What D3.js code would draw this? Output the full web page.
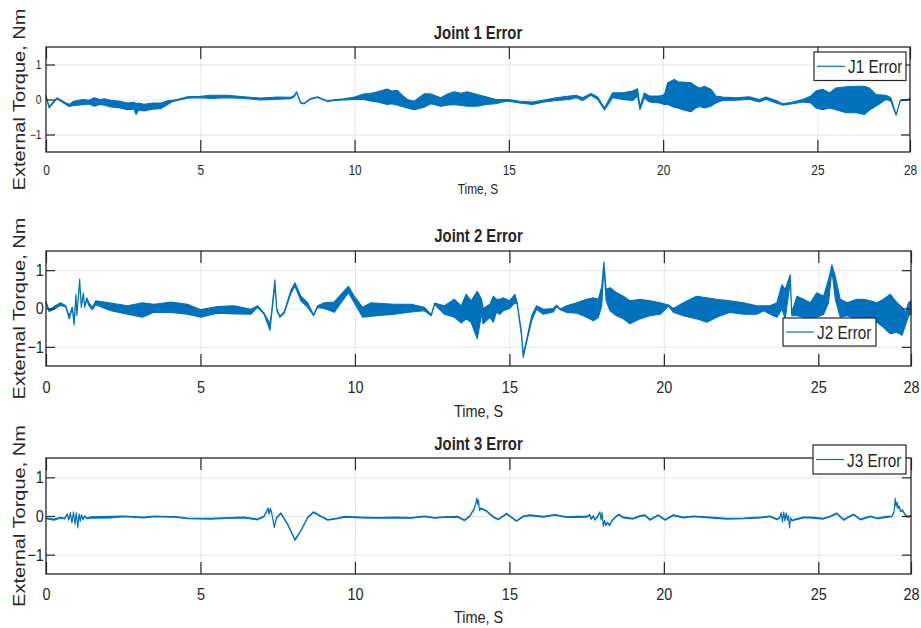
<!DOCTYPE html>
<html>
<head>
<meta charset="utf-8">
<script src="https://cdn.jsdelivr.net/npm/d3@7"></script>
<style>
  body { margin: 0; background: #fff; }
  text { font-family: "Liberation Sans", Arial, sans-serif; fill: #262626; }
</style>
</head>
<body>
<svg id="chart" width="921" height="628"></svg>
<script>
// tick values
const timeTicks = [0, 5, 10, 15, 20, 25, 28];
const torqueTicks = [-1, 0, 1];

// [time (s), upper envelope, lower envelope]
const j1Error = [
  [0,0.12,0.08],[0.1,-0.2,-0.24],[0.35,0.05,0.02],[0.55,-0.05,-0.09],[0.75,-0.14,-0.2],
  [0.9,-0.05,-0.17],[1.2,0.0,-0.15],[1.4,-0.02,-0.13],[1.56,0.05,-0.19],[1.75,0.0,-0.14],[1.9,0.02,-0.16],[2.1,-0.02,-0.21],
  [2.4,-0.05,-0.24],[2.64,-0.1,-0.29],[2.85,-0.08,-0.27],[2.92,-0.12,-0.43],[3.0,-0.1,-0.3],
  [3.18,-0.14,-0.33],[3.45,-0.1,-0.28],[3.72,-0.1,-0.26],[3.93,-0.04,-0.15],[4.1,-0.02,-0.06],
  [4.25,0.0,-0.03],[4.58,0.08,0.04],[5.0,0.09,0.05],[5.34,0.12,0.03],[5.88,0.12,0.05],
  [6.42,0.08,0.03],[6.96,0.04,-0.01],[7.5,0.07,0.01],[7.93,0.06,0.02],[8.05,0.12,0.08],
  [8.12,0.22,0.2],[8.25,-0.08,-0.1],[8.36,-0.11,-0.13],[8.58,0.03,0.01],[8.8,0.08,0.06],
  [9.12,-0.04,-0.06],[9.33,-0.01,-0.03],[9.66,0.02,-0.01],[10.0,0.07,0.0],[10.3,0.16,0.0],
  [10.5,0.17,-0.04],[10.74,0.22,-0.07],[11.06,0.3,-0.14],[11.2,0.24,-0.12],[11.39,0.26,-0.16],[11.55,0.12,-0.2],[11.71,0.0,-0.24],[11.93,-0.05,-0.29],
  [12.25,0.16,-0.22],[12.47,0.16,-0.12],[12.79,0.05,-0.19],[13.0,0.15,-0.16],[13.22,0.22,-0.14],[13.45,0.18,-0.17],[13.65,0.22,-0.19],
  [13.98,0.14,-0.19],[14.26,0.08,-0.14],[14.58,0.0,-0.12],[14.8,0.0,-0.07],[15.0,0.0,-0.05],
  [15.34,-0.05,-0.1],[15.77,-0.07,-0.14],[16.1,-0.02,-0.08],[16.53,0.05,-0.03],[16.96,0.1,0.0],
  [17.18,0.12,0.05],[17.39,0.05,-0.03],[17.66,0.17,0.12],[17.88,0.07,0.0],[18.1,-0.24,-0.3],
  [18.36,0.19,0.05],[18.69,0.19,0.0],[19.01,0.24,-0.03],[19.17,0.31,0.1],[19.25,-0.2,-0.29],
  [19.39,0.19,0.05],[19.55,0.1,-0.07],[19.88,0.1,-0.1],[20.04,0.14,-0.14],[20.15,0.48,-0.14],
  [20.36,0.57,-0.22],[20.5,0.5,-0.25],[20.63,0.5,-0.29],[20.9,0.48,-0.35],[21.06,0.38,-0.24],[21.2,0.32,-0.2],[21.33,0.38,-0.24],
  [21.55,0.29,-0.19],[21.71,0.1,-0.1],[21.93,0.07,-0.03],[22.36,0.05,-0.02],[22.79,0.08,0.01],
  [23.12,0.0,-0.07],[23.33,0.07,0.01],[23.66,-0.03,-0.1],[23.87,-0.12,-0.16],[24.2,-0.07,-0.12],
  [24.52,0.0,-0.07],[24.79,0.1,-0.1],[24.95,0.24,-0.24],[25.17,0.29,-0.29],[25.39,0.19,-0.24],
  [25.6,0.33,-0.29],[25.93,0.36,-0.38],[26.25,0.38,-0.38],[26.52,0.38,-0.43],[26.68,0.33,-0.31],
  [26.9,0.14,-0.19],[27.22,0.12,0.0],[27.38,0.05,-0.05],[27.55,-0.43,-0.45],[27.68,-0.03,-0.05],
  [27.76,0.0,-0.02],[27.87,-0.01,-0.03],[28.0,0.02,0.0]
];

const j2Error = [
  [0,0.18,0.12],[0.1,-0.04,-0.08],[0.26,0.05,-0.02],[0.47,0.15,0.08],[0.64,0.07,0.04],
  [0.75,-0.2,-0.27],[0.85,0.04,0.0],[0.91,-0.3,-0.43],[0.97,0.37,0.3],[1.0,-0.15,-0.19],
  [1.09,0.77,0.7],[1.14,0.07,0.03],[1.21,0.41,0.35],[1.25,0.06,0.03],[1.32,0.28,0.22],
  [1.39,0.15,0.08],[1.5,0.03,-0.03],[1.61,0.2,0.1],[2.1,0.14,-0.06],[2.64,0.07,-0.15],
  [3.12,0.15,-0.23],[3.5,0.11,-0.1],[4.04,0.17,-0.1],[4.58,0.11,-0.15],[5.01,-0.03,-0.23],
  [5.55,0.05,-0.12],[6.09,0.07,-0.14],[6.63,-0.02,-0.15],[6.85,0.07,0.03],[7.06,-0.12,-0.15],
  [7.25,-0.4,-0.57],[7.3,-0.1,-0.2],[7.41,0.75,0.6],[7.47,0.0,-0.05],[7.57,-0.2,-0.23],
  [7.71,-0.08,-0.12],[7.93,0.48,0.4],[8.06,0.67,0.58],[8.25,0.32,0.2],[8.47,0.15,0.03],
  [8.66,-0.16,-0.19],[8.79,0.07,0.03],[9.01,0.15,0.0],[9.33,0.17,-0.1],[9.55,0.37,0.15],
  [9.79,0.58,0.41],[9.98,0.32,0.15],[10.25,0.03,-0.23],[10.52,0.15,-0.2],[11.28,0.11,-0.15],
  [11.82,0.11,-0.09],[12.25,0.03,-0.06],[12.47,-0.16,-0.19],[12.58,0.14,0.1],[12.9,0.07,-0.15],
  [13.22,0.24,-0.23],[13.44,0.07,-0.38],[13.6,0.37,-0.27],[13.76,0.2,-0.36],[13.96,0.45,-0.79],
  [14.1,0.24,-0.15],[14.15,0.0,-0.4],[14.37,0.11,-0.23],[14.48,0.32,-0.36],[14.58,0.24,-0.1],
  [14.69,0.24,-0.15],[14.8,0.28,-0.06],[15.0,0.2,0.0],[15.18,0.37,0.15],[15.25,0.17,0.12],
  [15.39,-0.6,-0.7],[15.45,-1.2,-1.28],[15.56,-0.8,-0.87],[15.72,-0.19,-0.32],[15.88,0.07,-0.02],
  [16.1,-0.02,-0.15],[16.42,0.0,-0.09],[16.53,0.09,0.06],[16.64,-0.01,-0.03],[16.85,0.07,-0.1],
  [17.18,0.15,-0.12],[17.5,0.24,-0.23],[17.72,0.28,-0.32],[17.88,0.24,-0.23],[17.99,0.58,0.07],
  [18.06,1.22,1.1],[18.13,0.5,0.2],[18.26,0.54,-0.06],[18.47,0.41,-0.19],[18.69,0.32,-0.27],
  [18.9,0.2,-0.4],[19.23,0.24,-0.27],[19.55,0.2,-0.19],[19.88,0.15,-0.15],[20.15,0.09,0.06],
  [20.31,0.0,-0.1],[20.63,0.15,-0.19],[21.06,0.32,-0.27],[21.39,0.28,-0.36],[21.71,0.24,-0.23],
  [22.14,0.2,-0.1],[22.58,0.15,-0.15],[23.01,0.07,-0.15],[23.23,0.07,-0.06],[23.44,0.07,-0.15],
  [23.66,0.15,-0.23],[23.82,0.62,-0.02],[23.93,0.5,-0.27],[24.09,0.88,0.7],[24.14,-0.1,-0.19],
  [24.31,0.32,-0.19],[24.52,0.24,-0.23],[24.74,0.15,-0.27],[24.95,0.41,-0.23],[25.17,0.32,-0.15],
  [25.33,0.75,0.15],[25.44,1.14,1.0],[25.55,0.84,0.24],[25.71,0.24,-0.23],[25.93,0.15,-0.19],
  [26.25,0.24,-0.27],[26.47,0.24,-0.44],[26.68,0.2,-0.4],[26.9,0.15,-0.36],[27.11,0.24,-0.49],
  [27.33,0.37,-0.66],[27.55,0.15,-0.62],[27.71,0.03,-0.7],[27.82,-0.1,-0.44],[27.92,0.15,-0.19],
  [28.0,0.2,-0.15]
];

const j3Error = [
  [0,-0.05,-0.07],[0.26,-0.08,-0.11],[0.47,-0.03,-0.05],[0.6,-0.06,-0.08],
  [0.69,0.06,0.04],[0.74,-0.09,-0.11],[0.79,0.09,0.07],[0.84,-0.16,-0.18],[0.89,0.11,0.09],
  [0.94,-0.2,-0.22],[0.98,0.09,0.07],[1.03,-0.29,-0.31],[1.07,0.06,0.04],[1.11,-0.12,-0.14],
  [1.15,0.04,0.02],[1.2,-0.08,-0.1],[1.25,0.01,-0.01],[1.32,-0.05,-0.07],
  [1.45,-0.02,-0.06],[2.1,-0.01,-0.05],[2.53,0.0,-0.02],[3.18,-0.03,-0.05],
  [3.5,0.0,-0.02],[4.25,-0.02,-0.04],[4.58,-0.05,-0.07],[5.34,-0.06,-0.08],[5.98,-0.04,-0.06],
  [6.42,-0.03,-0.05],[6.85,-0.08,-0.1],[7.06,0.0,-0.02],[7.19,0.21,0.19],[7.22,0.06,0.04],
  [7.26,0.2,0.18],[7.3,0.11,0.09],[7.39,-0.28,-0.3],[7.46,-0.04,-0.06],[7.6,0.08,0.06],[7.82,-0.2,-0.22],
  [8.06,-0.61,-0.63],[8.25,-0.37,-0.39],[8.47,-0.03,-0.05],[8.66,0.11,0.09],[8.9,0.0,-0.02],
  [9.12,-0.09,-0.11],[9.44,-0.05,-0.07],[9.66,-0.01,-0.03],[10.2,-0.03,-0.05],[10.74,-0.04,-0.06],
  [11.28,-0.03,-0.05],[11.82,-0.04,-0.06],[12.25,0.0,-0.02],[12.57,-0.04,-0.06],[12.9,-0.02,-0.04],
  [13.33,-0.01,-0.03],[13.55,-0.1,-0.12],[13.71,0.0,-0.02],[13.87,0.21,0.19],[13.92,0.36,0.34],
  [13.95,0.47,0.45],[13.98,0.31,0.29],[14.0,0.41,0.39],[14.03,0.16,0.14],[14.08,0.21,0.19],
  [14.15,0.18,0.16],[14.26,0.14,0.12],[14.48,-0.02,-0.04],[14.64,-0.08,-0.1],
  [14.91,0.07,0.05],[15.23,-0.12,-0.14],[15.45,0.0,-0.02],[15.66,0.03,0.01],[16.1,-0.01,-0.03],
  [16.47,0.04,0.02],[16.85,-0.02,-0.04],[17.18,-0.01,-0.04],[17.5,-0.01,-0.03],[17.6,0.04,0.02],
  [17.65,-0.07,-0.09],[17.72,0.01,-0.01],[17.77,-0.09,-0.11],[17.85,-0.01,-0.03],[17.93,0.11,0.09],
  [17.97,-0.08,-0.1],[18.0,0.09,0.07],[18.04,-0.25,-0.27],[18.08,-0.11,-0.13],[18.12,-0.23,-0.25],
  [18.18,-0.16,-0.18],[18.24,-0.23,-0.25],[18.3,-0.14,-0.16],[18.36,-0.08,-0.1],
  [18.53,0.05,0.03],[18.69,-0.03,-0.05],[19.01,-0.06,-0.08],[19.23,0.01,-0.01],[19.39,0.03,0.01],
  [19.55,-0.09,-0.11],[19.82,0.03,0.01],[20.04,-0.09,-0.11],[20.31,0.03,0.01],[20.63,-0.03,-0.05],
  [20.96,0.0,-0.02],[21.5,-0.03,-0.05],[22.04,-0.06,-0.08],[22.58,-0.05,-0.07],[23.12,-0.03,-0.05],
  [23.44,0.0,-0.02],[23.66,-0.08,-0.1],[23.75,-0.04,-0.06],[23.8,0.09,0.07],[23.84,-0.14,-0.16],
  [23.88,0.11,0.09],[23.92,-0.11,-0.13],[23.96,0.08,0.06],[24.0,-0.09,-0.11],[24.03,0.01,-0.01],
  [24.07,-0.29,-0.31],[24.1,-0.04,-0.06],[24.15,-0.11,-0.13],
  [24.25,-0.08,-0.1],[24.52,-0.03,-0.05],[24.74,-0.03,-0.05],[25.17,-0.06,-0.08],[25.39,0.0,-0.02],
  [25.6,0.08,0.06],[25.82,-0.09,-0.11],[26.14,0.05,0.03],[26.36,-0.08,-0.1],[26.68,0.0,-0.02],
  [26.9,-0.05,-0.07],[27.22,-0.01,-0.04],[27.38,0.0,-0.02],[27.45,0.11,0.09],[27.49,0.46,0.44],
  [27.52,0.26,0.24],[27.55,0.36,0.34],[27.58,0.21,0.19],[27.62,0.26,0.24],[27.66,0.13,0.11],
  [27.72,0.16,0.14],[27.8,0.06,0.04],[27.87,-0.01,-0.03],[28.0,0.01,-0.01]
];

const lineColor = '#0072BD';
const squeeze = 0.85; // the source picture is horizontally condensed

const panels = [
  {data: j1Error, title: 'Joint 1 Error', legend: 'J1 Error',
   left: 46, right: 910, top: 47, bottom: 152,
   titleY: 39, xFont: 14, yFont: 12, xPad: 13, yPad: 5.3, xLabelY: 194, xLabelFont: 14,
   leg: {x: 814, y: 52, w: 92, h: 28.5, base: 72.5}},
  {data: j2Error, title: 'Joint 2 Error', legend: 'J2 Error',
   left: 46, right: 911, top: 251, bottom: 366,
   titleY: 241.5, xFont: 17, yFont: 17, xPad: 15, yPad: 2.5, xLabelY: 417, xLabelFont: 17,
   leg: {x: 783, y: 318, w: 93, h: 28, base: 338.5}},
  {data: j3Error, title: 'Joint 3 Error', legend: 'J3 Error',
   left: 46, right: 911, top: 458, bottom: 574,
   titleY: 450, xFont: 17, yFont: 17, xPad: 13.5, yPad: 2.5, xLabelY: 622.5, xLabelFont: 17,
   leg: {x: 813, y: 445, w: 93, h: 29, base: 466.5}}
];

const svg = d3.select('#chart');

function squeezeText(sel){
  sel.attr('transform', `scale(${squeeze},1)`);
}

function drawPanel(p){
  const x = d3.scaleLinear().domain([0, 28]).range([p.left, p.right]);
  const y = d3.scaleLinear().domain([-1.5, 1.5]).range([p.bottom, p.top]);
  const w = p.right - p.left, h = p.bottom - p.top;
  const g = svg.append('g');

  // grid
  g.append('g')
    .attr('transform', `translate(0,${p.bottom})`)
    .call(d3.axisBottom(x).tickValues(timeTicks.filter(d => d > 0 && d < 28)).tickSize(-h).tickFormat(''))
    .call(s => s.select('.domain').remove())
    .selectAll('line').attr('stroke', '#e6e6e6');
  g.append('g')
    .attr('transform', `translate(${p.left},0)`)
    .call(d3.axisLeft(y).tickValues(torqueTicks).tickSize(-w).tickFormat(''))
    .call(s => s.select('.domain').remove())
    .selectAll('line').attr('stroke', '#e6e6e6');

  // signal band
  const area = d3.area()
    .x(d => x(d[0]))
    .y0(d => y(d[2]))
    .y1(d => y(d[1]));
  g.append('path')
    .datum(p.data)
    .attr('d', area)
    .attr('fill', lineColor)
    .attr('stroke', lineColor)
    .attr('stroke-width', 1.1)
    .attr('stroke-linejoin', 'round');

  // axes with inward ticks
  const xb = g.append('g')
    .attr('transform', `translate(0,${p.bottom})`)
    .call(d3.axisBottom(x).tickValues(timeTicks).tickSizeInner(-12).tickSizeOuter(0).tickPadding(p.xPad).tickFormat(d3.format('d')));
  xb.select('.domain').remove();
  xb.selectAll('line').attr('stroke', '#262626').attr('stroke-width', 1.2);
  xb.selectAll('text').attr('font-size', p.xFont).attr('fill', '#262626')
    .style('font-family', '"Liberation Sans", Arial, sans-serif').call(squeezeText);

  const xt = g.append('g')
    .attr('transform', `translate(0,${p.top})`)
    .call(d3.axisTop(x).tickValues(timeTicks).tickSizeInner(-12).tickSizeOuter(0).tickFormat(''));
  xt.select('.domain').remove();
  xt.selectAll('line').attr('stroke', '#262626').attr('stroke-width', 1.2);

  const yl = g.append('g')
    .attr('transform', `translate(${p.left},0)`)
    .call(d3.axisLeft(y).tickValues(torqueTicks).tickSizeInner(-9).tickSizeOuter(0).tickPadding(p.yPad).tickFormat(d3.format('d')));
  yl.select('.domain').remove();
  yl.selectAll('line').attr('stroke', '#262626').attr('stroke-width', 1.2);
  yl.selectAll('text').attr('font-size', p.yFont).attr('fill', '#262626')
    .style('font-family', '"Liberation Sans", Arial, sans-serif').call(squeezeText);

  const yr = g.append('g')
    .attr('transform', `translate(${p.right},0)`)
    .call(d3.axisRight(y).tickValues(torqueTicks).tickSizeInner(-9).tickSizeOuter(0).tickFormat(''));
  yr.select('.domain').remove();
  yr.selectAll('line').attr('stroke', '#262626').attr('stroke-width', 1.2);

  // box
  g.append('rect')
    .attr('x', p.left).attr('y', p.top).attr('width', w).attr('height', h)
    .attr('fill', 'none').attr('stroke', '#262626').attr('stroke-width', 1.3);

  const cx = (p.left + p.right) / 2;
  // title
  g.append('text')
    .attr('transform', `translate(${cx},${p.titleY}) scale(${squeeze},1)`)
    .attr('text-anchor', 'middle')
    .attr('font-size', 17.5)
    .attr('font-weight', 'bold')
    .attr('fill', '#000')
    .text(p.title);
  // x label
  g.append('text')
    .attr('transform', `translate(${cx},${p.xLabelY}) scale(${squeeze},1)`)
    .attr('text-anchor', 'middle')
    .attr('font-size', p.xLabelFont)
    .text('Time, S');
  // y label
  g.append('text')
    .attr('transform', `translate(25,${(p.top + p.bottom) / 2}) scale(${squeeze},1) rotate(-90)`)
    .attr('text-anchor', 'middle')
    .attr('font-size', 20)
    .text('External Torque, Nm');

  // legend
  const L = p.leg;
  g.append('rect')
    .attr('x', L.x).attr('y', L.y).attr('width', L.w).attr('height', L.h)
    .attr('fill', '#fff').attr('stroke', '#262626').attr('stroke-width', 1.2);
  const ly = L.y + L.h / 2;
  g.append('line')
    .attr('x1', L.x + 3).attr('x2', L.x + 31).attr('y1', ly).attr('y2', ly)
    .attr('stroke', lineColor).attr('stroke-width', 1.2);
  g.append('text')
    .attr('transform', `translate(${L.x + 34},${L.base}) scale(${squeeze},1)`)
    .attr('font-size', 18)
    .text(p.legend);
}

panels.forEach(drawPanel);
</script>
</body>
</html>
